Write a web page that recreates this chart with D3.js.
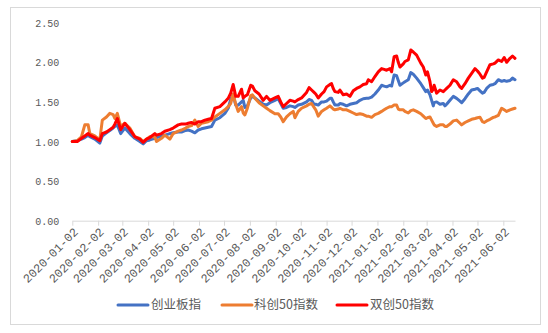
<!DOCTYPE html>
<html>
<head>
<meta charset="utf-8">
<script src="https://cdn.jsdelivr.net/npm/d3@7"></script>
<style>
  html, body { margin: 0; padding: 0; background: #fff; }
  svg { display: block; }
  .tick-label { font-family: "Liberation Mono", "DejaVu Sans Mono", monospace; fill: #595959; }
  .legend-label { font-family: "Noto Sans CJK SC", sans-serif; fill: #595959; }
</style>
</head>
<body>
<svg id="chart" width="548" height="333"></svg>
<script>
// Trading dates sampled through the period
const dates = [
  "2020-01-02","2020-01-08","2020-01-13","2020-01-17","2020-01-21","2020-01-23","2020-01-29","2020-02-04","2020-02-07","2020-02-12",
  "2020-02-16","2020-02-20","2020-02-22","2020-02-25","2020-02-29","2020-03-05","2020-03-11","2020-03-17","2020-03-23","2020-03-27",
  "2020-03-31","2020-04-04","2020-04-10","2020-04-12","2020-04-18","2020-04-22","2020-04-28","2020-05-02","2020-05-08","2020-05-12",
  "2020-05-17","2020-05-20","2020-05-24","2020-05-28","2020-06-01","2020-06-05","2020-06-09","2020-06-13","2020-06-17","2020-06-21",
  "2020-06-27","2020-07-03","2020-07-07","2020-07-10","2020-07-13","2020-07-16","2020-07-19","2020-07-23","2020-07-25","2020-07-27",
  "2020-07-30","2020-08-03","2020-08-05","2020-08-08","2020-08-13","2020-08-18","2020-08-22","2020-08-26","2020-09-01","2020-09-05",
  "2020-09-08","2020-09-11","2020-09-15","2020-09-19","2020-09-23","2020-09-25","2020-09-29","2020-10-03","2020-10-09","2020-10-12",
  "2020-10-15","2020-10-18","2020-10-20","2020-10-23","2020-10-27","2020-10-30","2020-11-02","2020-11-06","2020-11-08","2020-11-10",
  "2020-11-12","2020-11-16","2020-11-18","2020-11-22","2020-11-26","2020-11-30","2020-12-04","2020-12-08","2020-12-12","2020-12-16",
  "2020-12-20","2020-12-22","2020-12-26","2020-12-30","2021-01-03","2021-01-07","2021-01-10","2021-01-13","2021-01-17","2021-01-19",
  "2021-01-22","2021-01-25","2021-01-27","2021-01-29","2021-02-02","2021-02-04","2021-02-08","2021-02-11","2021-02-14","2021-02-18",
  "2021-02-23","2021-02-26","2021-03-01","2021-03-03","2021-03-06","2021-03-08","2021-03-10","2021-03-11","2021-03-14","2021-03-18",
  "2021-03-22","2021-03-24","2021-03-26","2021-03-30","2021-04-03","2021-04-07","2021-04-11","2021-04-13","2021-04-17","2021-04-21",
  "2021-04-25","2021-04-29","2021-05-02","2021-05-05","2021-05-08","2021-05-10","2021-05-13","2021-05-17","2021-05-21","2021-05-23",
  "2021-05-27","2021-05-31","2021-06-03","2021-06-06","2021-06-10","2021-06-13","2021-06-16"
];

// 创业板指 (normalised)
const cyb = [
  1.00,1.01,1.03,1.05,1.08,1.06,1.03,0.98,1.07,1.11,
  1.14,1.17,1.19,1.21,1.10,1.17,1.10,1.04,1.00,0.97,
  1.01,1.02,1.04,1.05,1.07,1.08,1.10,1.11,1.12,1.12,
  1.14,1.145,1.13,1.11,1.145,1.16,1.17,1.18,1.19,1.27,
  1.30,1.355,1.42,1.53,1.59,1.46,1.46,1.50,1.52,1.43,
  1.45,1.55,1.57,1.55,1.51,1.47,1.46,1.49,1.52,1.54,
  1.48,1.42,1.43,1.45,1.44,1.43,1.46,1.47,1.50,1.53,
  1.52,1.47,1.47,1.46,1.50,1.50,1.51,1.545,1.545,1.50,
  1.46,1.46,1.48,1.47,1.45,1.47,1.48,1.49,1.52,1.54,
  1.545,1.545,1.56,1.60,1.65,1.71,1.70,1.69,1.71,1.70,
  1.84,1.83,1.77,1.71,1.74,1.755,1.78,1.87,1.85,1.80,
  1.73,1.68,1.63,1.65,1.59,1.52,1.45,1.49,1.50,1.47,
  1.48,1.45,1.47,1.52,1.57,1.545,1.51,1.49,1.54,1.60,
  1.65,1.66,1.67,1.64,1.61,1.62,1.67,1.71,1.72,1.73,
  1.78,1.76,1.77,1.76,1.77,1.80,1.78
];

// 科创50指数 (normalised)
const kc50 = [
  1.00,1.01,1.06,1.21,1.21,1.10,1.07,1.02,1.27,1.31,
  1.355,1.34,1.29,1.355,1.19,1.23,1.17,1.06,1.04,1.00,
  1.03,1.06,1.06,1.00,1.04,1.08,1.03,1.10,1.13,1.145,
  1.17,1.19,1.20,1.27,1.19,1.23,1.24,1.25,1.27,1.31,
  1.355,1.40,1.44,1.48,1.60,1.47,1.38,1.44,1.36,1.335,
  1.42,1.58,1.59,1.545,1.49,1.45,1.42,1.39,1.35,1.35,
  1.31,1.25,1.31,1.35,1.38,1.30,1.38,1.42,1.45,1.47,
  1.48,1.43,1.40,1.32,1.38,1.40,1.42,1.45,1.43,1.41,
  1.40,1.41,1.42,1.40,1.40,1.38,1.36,1.34,1.35,1.34,
  1.32,1.32,1.305,1.34,1.355,1.38,1.40,1.42,1.44,1.44,
  1.46,1.46,1.41,1.40,1.40,1.38,1.36,1.39,1.40,1.38,
  1.35,1.32,1.29,1.30,1.31,1.27,1.23,1.21,1.19,1.21,
  1.21,1.19,1.19,1.22,1.26,1.27,1.23,1.21,1.24,1.26,
  1.28,1.29,1.30,1.305,1.25,1.24,1.26,1.28,1.305,1.31,
  1.33,1.42,1.40,1.38,1.40,1.41,1.42
];

// 双创50指数 (normalised)
const sc50 = [
  1.00,1.00,1.04,1.07,1.10,1.08,1.05,1.01,1.10,1.12,
  1.15,1.18,1.22,1.29,1.15,1.23,1.15,1.06,1.03,0.99,
  1.03,1.05,1.10,1.08,1.10,1.13,1.15,1.17,1.21,1.22,
  1.22,1.23,1.24,1.22,1.25,1.25,1.27,1.28,1.29,1.42,
  1.44,1.50,1.545,1.61,1.72,1.57,1.57,1.66,1.55,1.57,
  1.59,1.71,1.70,1.64,1.60,1.52,1.57,1.52,1.55,1.57,
  1.50,1.44,1.48,1.52,1.51,1.50,1.53,1.55,1.62,1.68,
  1.65,1.62,1.60,1.55,1.60,1.63,1.69,1.72,1.73,1.67,
  1.63,1.62,1.65,1.59,1.60,1.57,1.64,1.67,1.69,1.72,
  1.73,1.78,1.755,1.82,1.88,1.92,1.91,1.90,1.92,1.88,
  2.07,2.08,2.00,1.94,1.98,2.01,2.03,2.155,2.13,2.09,
  1.99,1.94,1.84,1.88,1.755,1.63,1.66,1.71,1.61,1.65,
  1.63,1.65,1.67,1.71,1.78,1.755,1.69,1.67,1.73,1.80,
  1.86,1.92,1.89,1.85,1.80,1.81,1.88,1.97,1.98,1.99,
  2.03,2.01,2.06,2.00,2.05,2.08,2.05
];

// Axis tick labels
const xTickLabels = [
  "2020-01-02","2020-02-02","2020-03-02","2020-04-02","2020-05-02","2020-06-02",
  "2020-07-02","2020-08-02","2020-09-02","2020-10-02","2020-11-02","2020-12-02",
  "2021-01-02","2021-02-02","2021-03-02","2021-04-02","2021-05-02","2021-06-02"
];
const yTicks = [0, 0.5, 1.0, 1.5, 2.0, 2.5];

const seriesNames = ["创业板指", "科创50指数", "双创50指数"];
const seriesColors = ["#4472C4", "#ED7D31", "#FF0000"];
const seriesValues = [cyb, kc50, sc50];

const parse = d3.timeParse("%Y-%m-%d");
const parsedDates = dates.map(parse);

const svg = d3.select("#chart");

// chart frame
svg.append("rect")
  .attr("x", 10.5).attr("y", 7.5)
  .attr("width", 530).attr("height", 317)
  .attr("fill", "#fff")
  .attr("stroke", "#d9d9d9")
  .attr("stroke-width", 1);

const plot = { left: 72.3, right: 515, top: 22.7, bottom: 220.7 };

const x = d3.scaleTime()
  .domain([parse("2020-01-02"), parse("2021-06-16")])
  .range([plot.left, plot.right]);

const y = d3.scaleLinear()
  .domain([0, 2.5])
  .range([plot.bottom, plot.top]);

// y axis labels (no axis line)
const yAxis = d3.axisLeft(y)
  .tickValues(yTicks)
  .tickFormat(d3.format(".2f"))
  .tickSize(0)
  .tickPadding(13);

const gy = svg.append("g")
  .attr("transform", `translate(${plot.left},0)`)
  .call(yAxis);
gy.select(".domain").remove();
gy.selectAll("text")
  .attr("class", "tick-label")
  .attr("font-size", 10)
  .attr("dy", "0.35em")
  .style("font-family", '"Liberation Mono", "DejaVu Sans Mono", monospace')
  .attr("fill", "#595959");

// x axis
const xAxis = d3.axisBottom(x)
  .tickValues(xTickLabels.map(parse))
  .tickFormat(d3.timeFormat("%Y-%m-%d"))
  .tickSizeOuter(0)
  .tickSizeInner(5);

const gx = svg.append("g")
  .attr("transform", `translate(0,${plot.bottom})`)
  .call(xAxis);
gx.select(".domain").attr("stroke", "#d9d9d9").attr("stroke-width", 1);
gx.selectAll(".tick line").attr("stroke", "#d9d9d9");
gx.selectAll("text")
  .attr("class", "tick-label")
  .attr("font-size", 12)
  .style("font-family", '"Liberation Mono", "DejaVu Sans Mono", monospace')
  .attr("fill", "#6f6f6f")
  .attr("text-anchor", "end")
  .attr("y", 0)
  .attr("dy", "0.35em")
  .attr("transform", "translate(3,9) rotate(-45)");

// series lines
const line = d3.line()
  .x((d, i) => x(parsedDates[i]))
  .y(d => y(d));

seriesValues.forEach((vals, k) => {
  svg.append("path")
    .datum(vals)
    .attr("fill", "none")
    .attr("stroke", seriesColors[k])
    .attr("stroke-width", 3)
    .attr("stroke-linejoin", "round")
    .attr("stroke-linecap", "round")
    .attr("d", line);
});

// legend
const legendItems = [
  { x: 118, tx: 151 },
  { x: 222, tx: 254 },
  { x: 337, tx: 370 }
];
const legend = svg.append("g");
legendItems.forEach((it, k) => {
  legend.append("line")
    .attr("x1", it.x).attr("x2", it.x + 30)
    .attr("y1", 305).attr("y2", 305)
    .attr("stroke", seriesColors[k])
    .attr("stroke-width", 3)
    .attr("stroke-linecap", "round");
  legend.append("text")
    .attr("class", "legend-label")
    .attr("x", it.tx)
    .attr("y", 305)
    .attr("dy", "0.35em")
    .attr("font-size", 12.5)
    .text(seriesNames[k]);
});
</script>
</body>
</html>
